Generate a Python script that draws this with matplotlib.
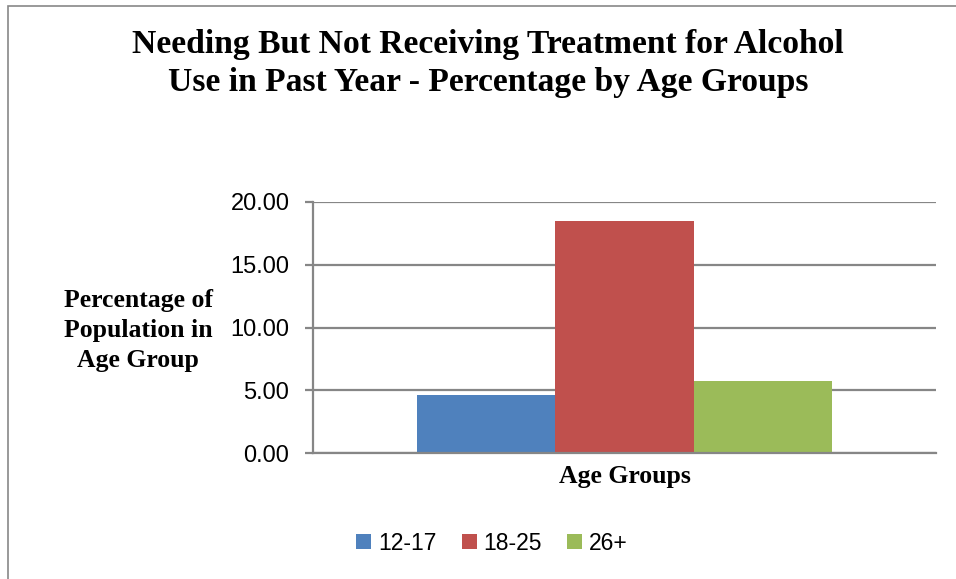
import matplotlib
matplotlib.use("Agg")
import matplotlib.pyplot as plt
from matplotlib.patches import Rectangle

# Data
age_groups = ["12-17", "18-25", "26+"]
percentages = [4.65, 18.45, 5.77]
bar_colors = ["#4F81BD", "#C0504D", "#9BBB59"]
y_ticks = [0, 5, 10, 15, 20]
y_tick_labels = ["0.00", "5.00", "10.00", "15.00", "20.00"]

W, H = 956, 579
fig = plt.figure(figsize=(W / 100, H / 100), dpi=100)
fig.patch.set_facecolor("white")

def fx(px):
    return px / W

def fy(py):
    return 1 - py / H

# Outer chart frame
fig.patches.append(Rectangle((fx(8), fy(600)), fx(1000) - fx(8), fy(6) - fy(600),
                             transform=fig.transFigure, fill=False,
                             edgecolor="#878787", linewidth=1.2))

ax = fig.add_axes([fx(313), fy(453.3), fx(936) - fx(313), fy(202) - fy(453.3)])

grid_color = "#868686"
bar_w = 1 / 3
offsets = [-bar_w, 0, bar_w]
handles = []
for off, val, col, lab in zip(offsets, percentages, bar_colors, age_groups):
    b = ax.bar(off, val, width=bar_w, color=col, label=lab, zorder=3)
    handles.append(b)

ax.set_xlim(-0.75, 0.75)
ax.set_ylim(0, 20)
ax.set_yticks(y_ticks)
ax.set_yticklabels(y_tick_labels, fontfamily="Liberation Sans", fontsize=17)
ax.set_xticks([])
ax.yaxis.grid(True, color=grid_color, linewidth=1.6, zorder=0)
ax.tick_params(axis="y", length=6, width=1.6, color=grid_color, pad=11)

for side in ["top", "right"]:
    ax.spines[side].set_visible(False)
ax.spines["left"].set_color(grid_color)
ax.spines["left"].set_linewidth(1.6)
ax.spines["bottom"].set_color(grid_color)
ax.spines["bottom"].set_linewidth(1.6)
ax.spines["bottom"].set_zorder(4)

# Title
serif_bold = dict(fontfamily="Liberation Serif", fontweight="bold", color="black")
fig.text(fx(488), fy(45), "Needing But Not Receiving Treatment for Alcohol",
         ha="center", va="center", fontsize=24.2, **serif_bold)
fig.text(fx(488), fy(83), "Use in Past Year - Percentage by Age Groups",
         ha="center", va="center", fontsize=24.2, **serif_bold)

# Axis titles
for txt, base in zip(["Percentage of", "Population in", "Age Group"], [307, 337, 367]):
    fig.text(fx(138), fy(base), txt, ha="center", va="baseline", fontsize=18.5, **serif_bold)
fig.text(fx(624.5), fy(476), "Age Groups", ha="center", va="center", fontsize=18.5, **serif_bold)

# Legend
fig.legend(handles=handles, labels=age_groups, loc="center",
           bbox_to_anchor=(fx(492), fy(543)), ncol=3, frameon=False,
           prop={"family": "Liberation Sans", "size": 16.5},
           handlelength=0.65, handleheight=0.65, handletextpad=0.3,
           columnspacing=1.1)

fig.savefig("out.png", dpi=100, facecolor="white")
